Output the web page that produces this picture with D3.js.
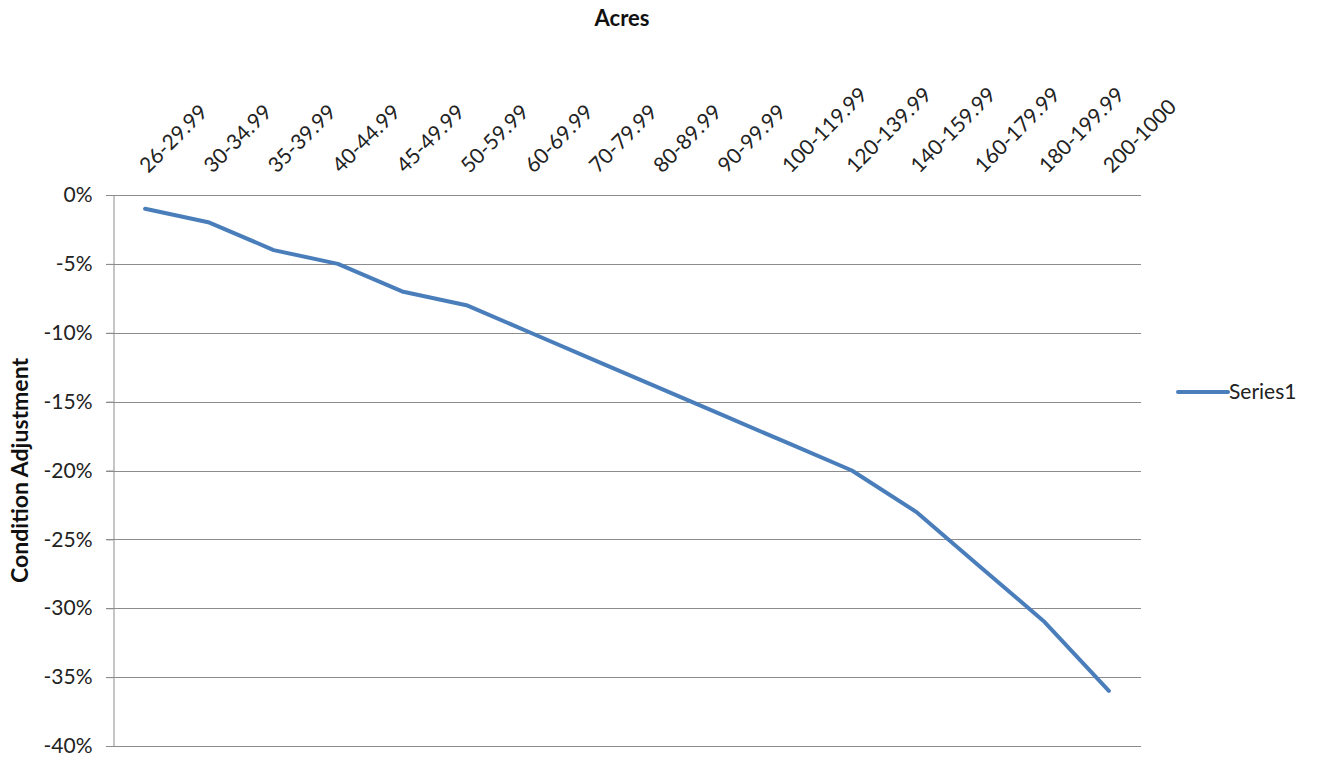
<!DOCTYPE html>
<html><head><meta charset="utf-8">
<script src="https://cdn.jsdelivr.net/npm/d3@7"></script>
<style>body{margin:0;background:#fff}svg{display:block}</style>
</head><body>
<script>
const categories = ["26-29.99","30-34.99","35-39.99","40-44.99","45-49.99","50-59.99","60-69.99","70-79.99","80-89.99","90-99.99","100-119.99","120-139.99","140-159.99","160-179.99","180-199.99","200-1000"];
const series1 = [-1,-2,-4,-5,-7,-8,-10,-12,-14,-16,-18,-20,-23,-27,-31,-36];
const yTicks = [0,-5,-10,-15,-20,-25,-30,-35,-40];
const seriesName = "Series1";
const xTitle = "Acres";
const yTitle = "Condition Adjustment";

const W = 1320, H = 758;
const pLeft = 113, pRight = 1141, pTop = 195, pBottom = 746;
const font = "Lato, 'Open Sans', sans-serif";
const svg = d3.select("body").append("svg").attr("width", W).attr("height", H);

const x = d3.scaleBand().domain(categories).range([pLeft, pRight]);
const y = d3.scaleLinear().domain([-40, 0]).range([pBottom, pTop]);

// gridlines
svg.append("g").selectAll("line").data(yTicks).join("line")
  .attr("x1", pLeft - 7).attr("x2", pRight)
  .attr("y1", d => Math.round(y(d)) + 0.5).attr("y2", d => Math.round(y(d)) + 0.5)
  .attr("stroke", "#8c8c8c").attr("stroke-width", 1);

// y axis
const yAxis = d3.axisLeft(y).tickValues(yTicks).tickFormat(d => d + "%").tickSize(7).tickPadding(14);
const gy = svg.append("g").attr("transform", `translate(${pLeft + 0.5},0)`).call(yAxis);
gy.select(".domain").attr("stroke", "#8c8c8c");
gy.selectAll(".tick line").attr("stroke", "#8c8c8c");
gy.selectAll("text").attr("font-family", font).attr("font-size", 21).attr("fill", "#222");

// x category labels (top, rotated)
svg.append("g").selectAll("text").data(categories).join("text")
  .attr("transform", d => `translate(${x(d) + x.bandwidth()/2 + 3},${pTop - 21}) rotate(-45)`)
  .attr("text-anchor", "start")
  .attr("font-family", font).attr("font-size", 21).attr("fill", "#222")
  .text(d => d);

// line
const line = d3.line().x((d, i) => x(categories[i]) + x.bandwidth()/2).y(d => y(d));
svg.append("path").datum(series1).attr("d", line)
  .attr("fill", "none").attr("stroke", "#4a7ebb").attr("stroke-width", 4)
  .attr("stroke-linejoin", "round").attr("stroke-linecap", "round");

// titles
svg.append("text").attr("x", 622).attr("y", 26).attr("text-anchor", "middle")
  .attr("font-family", font).attr("font-weight", "bold").attr("font-size", 22).attr("fill", "#111").text(xTitle);
svg.append("text").attr("transform", `translate(28,${(pTop + pBottom)/2}) rotate(-90)`).attr("text-anchor", "middle")
  .attr("font-family", font).attr("font-weight", "bold").attr("font-size", 23).attr("fill", "#111").text(yTitle);

// legend
const lg = svg.append("g").attr("transform", "translate(1178,392)");
lg.append("line").attr("x1", 0).attr("x2", 50).attr("y1", 0).attr("y2", 0)
  .attr("stroke", "#4a7ebb").attr("stroke-width", 4).attr("stroke-linecap", "round");
lg.append("text").attr("x", 51).attr("y", 7).attr("font-family", font).attr("font-size", 21).attr("fill", "#222").text(seriesName);
</script>
</body></html>
